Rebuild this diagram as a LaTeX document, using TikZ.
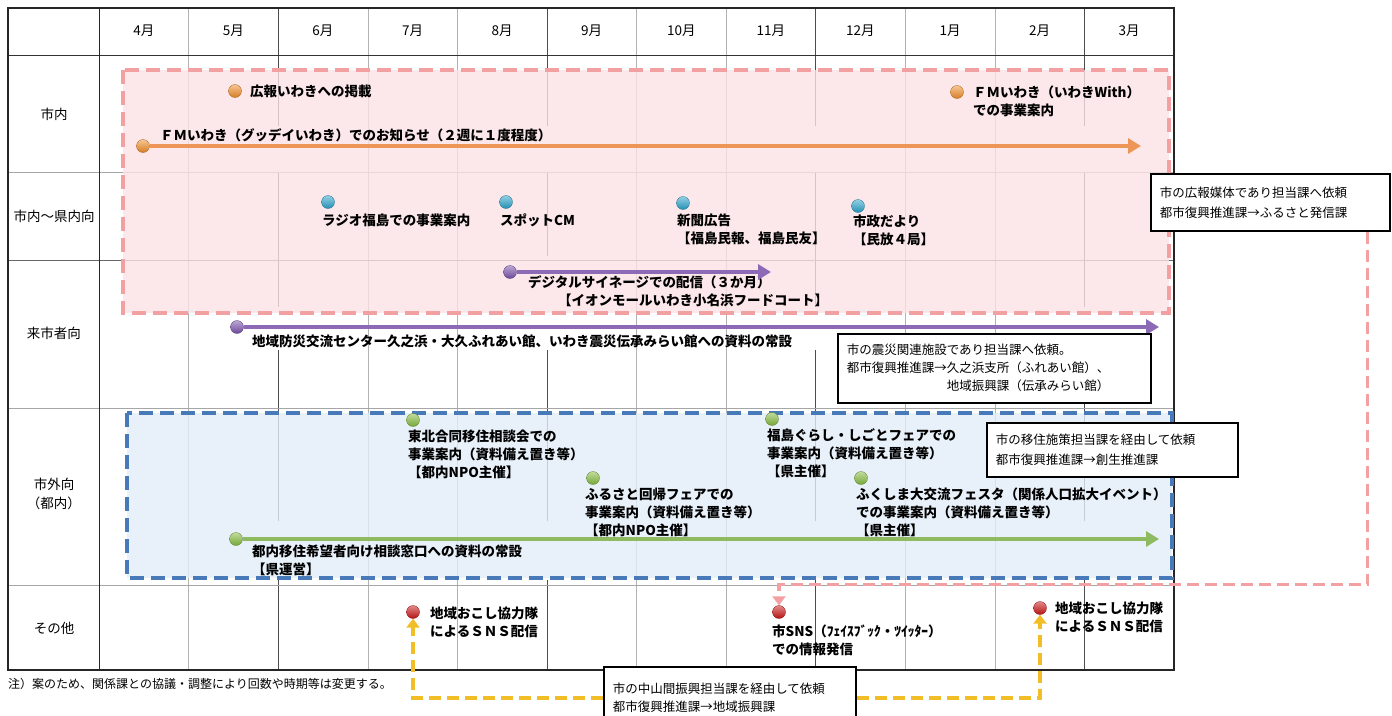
\documentclass[tikz,border=0pt]{standalone}
\usepackage{fontspec}
\setmainfont{Noto Sans CJK JP}
\usetikzlibrary{arrows.meta}

\definecolor{pinkline}{RGB}{242,160,162}
\definecolor{pinkfill}{RGB}{251,226,229}
\definecolor{blueline}{RGB}{72,122,186}
\definecolor{bluefill}{RGB}{226,236,248}
\definecolor{orangeline}{RGB}{238,150,88}
\definecolor{purpleline}{RGB}{140,106,182}
\definecolor{greenline}{RGB}{142,186,96}
\definecolor{yellowline}{RGB}{242,190,40}
\definecolor{orangedot}{RGB}{238,140,40}
\definecolor{tealdot}{RGB}{40,160,200}
\definecolor{purpledot}{RGB}{120,80,170}
\definecolor{greendot}{RGB}{130,185,60}
\definecolor{reddot}{RGB}{200,20,20}

\begin{document}
\begin{tikzpicture}[x=1pt, y=-1pt,
    head/.style = {font=\fontsize{13.5}{19}\selectfont, align=center},
    mon/.style = {font=\fontsize{13.5}{15}\selectfont},
    item/.style = {font=\fontsize{13.5}{18}\selectfont\bfseries, align=left, anchor=west, inner sep=0pt},
    dot/.style = {circle, inner sep=0pt, minimum size=13pt, draw=#1!70!black, line width=0.3pt, top color=#1!50!white, bottom color=#1!90!black},
    bar/.style = {draw=#1, line width=4pt, -{Triangle[length=13pt, width=15pt]}},
    memo/.style = {draw, fill=white, line width=1.6pt, anchor=north west, inner xsep=9pt, inner ysep=0pt, align=left, font=\fontsize{12.5}{20}\selectfont},
    link/.style = {draw=#1, line width=3.5pt, dash pattern=on 12pt off 6pt, -{Triangle[length=9pt, width=13pt]}}
  ]
  \useasboundingbox (0,0) rectangle (1392,715);

  % Table
  \foreach \i in {1,3,4,6,7,9,10}
    \draw[black!30] ({99+89.58*\i},8) -- ({99+89.58*\i},670);
  \foreach \i in {2,8,11}
    \foreach \a/\b in {8/126,172/307,350/521,580/670}
      \draw[black!70] ({99+89.58*\i},\a) -- ({99+89.58*\i},\b);
  \foreach \a/\b in {8/126,172/256,350/521,580/670}
    \draw[black!70] ({99+89.58*5},\a) -- ({99+89.58*5},\b);
  \foreach \y in {172,408,585}
    \draw[black!35] (8,\y) -- (1174,\y);
  \draw[black!60] (8,260) -- (1174,260);
  \draw[black!80] (8,55) -- (1174,55);
  \draw[black!85, line width=1pt] (99,8) -- (99,670);
  \draw[black!85, line width=1.2pt] (8,8) rectangle (1174,670);

  \foreach \m [count=\i from 0] in {4,5,6,7,8,9,10,11,12,1,2,3}
    \node[mon] (m\m) at ({99+89.58*(\i+0.5)},31) {\m{}月};

  \node[head] (lab1) at (54,114) {市内};
  \node[head] (lab2) at (54,216) {市内～県内向};
  \node[head] (lab3) at (54,333) {来市者向};
  \node[head] (lab4) at (54,494) {市外向\\（都内）};
  \node[head] (lab5) at (54,628) {その他};

  % Target groups
  \fill[pinkfill, fill opacity=0.8] (123,70) rectangle (1169,313);
  \fill[bluefill, fill opacity=0.8] (127,413) rectangle (1172,578);
  \draw[pinkline, line width=4pt, dash pattern=on 14pt off 7pt] (123,70) rectangle (1169,313);
  \draw[blueline, line width=4pt, dash pattern=on 14pt off 7pt] (127,413) rectangle (1172,578);

  % Nodes
  \node[dot=orangedot] (o1) at (235,91) {};
  \node[item] (o1t) at (250,91) {広報いわきへの掲載};
  \node[dot=orangedot] (o2) at (957,92) {};
  \node[item] (o2t) at (973,101) {ＦＭいわき（いわきWith）\\での事業案内};
  \node[dot=orangedot] (o3) at (143,146) {};
  \coordinate (o3end) at (1141,146);
  \node[item] (o3t) at (160,135) {ＦＭいわき（グッデイいわき）でのお知らせ（２週に１度程度）};

  \node[dot=tealdot] (t1) at (328,202) {};
  \node[item] (t1t) at (322,220) {ラジオ福島での事業案内};
  \node[dot=tealdot] (t2) at (506,202) {};
  \node[item] (t2t) at (500,220) {スポットCM};
  \node[dot=tealdot] (t3) at (683,203) {};
  \node[item] (t3t) at (677,229) {新聞広告\\【福島民報、福島民友】};
  \node[dot=tealdot] (t4) at (858,206) {};
  \node[item] (t4t) at (853,230) {市政だより\\【民放４局】};

  \node[dot=purpledot] (p1) at (510,272) {};
  \coordinate (p1end) at (771,272);
  \node[item] (p1t) at (528,291) {デジタルサイネージでの配信（３か月）\\\hspace*{30pt}【イオンモールいわき小名浜フードコート】};
  \node[dot=purpledot] (p2) at (237,327) {};
  \coordinate (p2end) at (1159,327);
  \node[item] (p2t) at (252,341) {地域防災交流センター久之浜・大久ふれあい館、いわき震災伝承みらい館への資料の常設};

  \node[dot=greendot] (g1) at (413,420) {};
  \node[item] (g1t) at (408,454) {東北合同移住相談会での\\事業案内（資料備え置き等）\\【都内NPO主催】};
  \node[dot=greendot] (g2) at (593,478) {};
  \node[item] (g2t) at (585,512) {ふるさと回帰フェアでの\\事業案内（資料備え置き等）\\【都内NPO主催】};
  \node[dot=greendot] (g3) at (772,419) {};
  \node[item] (g3t) at (767,453) {福島ぐらし・しごとフェアでの\\事業案内（資料備え置き等）\\【県主催】};
  \node[dot=greendot] (g4) at (861,478) {};
  \node[item] (g4t) at (856,512) {ふくしま大交流フェスタ（関係人口拡大イベント）\\での事業案内（資料備え置き等）\\【県主催】};
  \node[dot=greendot] (g5) at (236,539) {};
  \coordinate (g5end) at (1159,539);
  \node[item] (g5t) at (252,560) {都内移住希望者向け相談窓口への資料の常設\\【県運営】};

  \node[dot=reddot] (r1) at (413,612) {};
  \node[item] (r1t) at (430,622) {地域おこし協力隊\\によるＳＮＳ配信};
  \node[dot=reddot] (r2) at (779,612) {};
  \node[item] (r2t) at (772,640) {市SNS（ﾌｪｲｽﾌﾞｯｸ・ﾂｲｯﾀｰ）\\での情報発信};
  \node[dot=reddot] (r3) at (1040,608) {};
  \node[item] (r3t) at (1055,617) {地域おこし協力隊\\によるＳＮＳ配信};

  \draw[bar=orangeline] (o3.east) -- (o3end);
  \draw[bar=purpleline] (p1.east) -- (p1end);
  \draw[bar=purpleline] (p2.east) -- (p2end);
  \draw[bar=greenline] (g5.east) -- (g5end);

  % Requests
  \node[memo, text width=221pt, minimum height=57pt] (req1) at (1150,173)
    {市の広報媒体であり担当課へ依頼\\都市復興推進課→ふるさと発信課};
  \node[memo, text width=295pt, minimum height=69pt, font=\fontsize{12.5}{18}\selectfont] (req2) at (837,333)
    {市の震災関連施設であり担当課へ依頼。\\都市復興推進課→久之浜支所（ふれあい館）、\\\phantom{都市復興推進課→}地域振興課（伝承みらい館）};
  \node[memo, text width=233pt, minimum height=54pt] (req3) at (986,422)
    {市の移住施策担当課を経由して依頼\\都市復興推進課→創生推進課};
  \node[memo, text width=234pt, minimum height=62pt, font=\fontsize{12.5}{18}\selectfont] (req4) at (603,666)
    {市の中山間振興担当課を経由して依頼\\都市復興推進課→地域振興課};

  \draw[link=pinkline] ([xshift=-23pt]req1.south east) -- ++(0,353) -| (r2.north);
  \draw[link=yellowline] (req4.west) -| (r1.south);
  \draw[link=yellowline] (req4.east) -| (r3.south);

  \node[font=\fontsize{12}{14}\selectfont, anchor=west, inner sep=0pt] (remark) at (8,684)
    {注）案のため、関係課との協議・調整により回数や時期等は変更する。};
\end{tikzpicture}
\end{document}
